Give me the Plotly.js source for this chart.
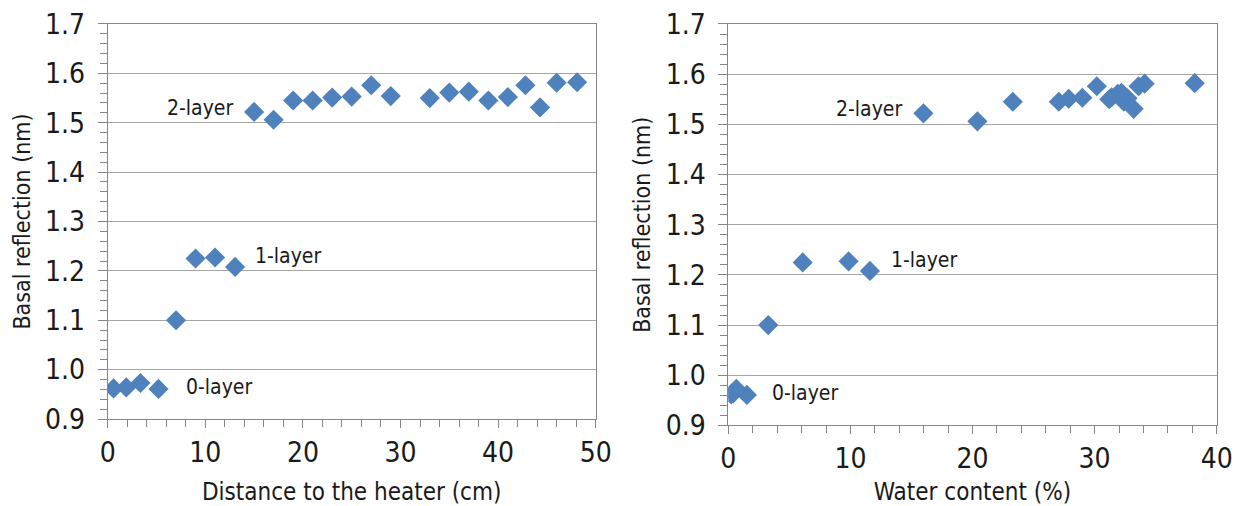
<!DOCTYPE html>
<html>
<head>
<meta charset="utf-8">
<script src="https://cdn.plot.ly/plotly-3.0.1.min.js"></script>
<style>
html,body{margin:0;padding:0;background:#fff;}
#chart{width:1241px;height:506px;}
</style>
</head>
<body>
<div id="chart"></div>
<script>
// Data
const distanceCm = [0.6, 1.9, 3.35, 5.2, 7.0, 9.0, 11.0, 13.05, 15.0, 17.0, 19.0, 21.0, 23.0, 25.0, 27.0, 29.0, 33.0, 35.0, 37.0, 39.0, 41.0, 42.8, 44.3, 46.0, 48.1];
const waterContent = [0.23, 0.4, 0.65, 1.52, 3.27, 6.09, 9.85, 11.6, 15.98, 20.4, 23.3, 27.07, 27.88, 29.0, 30.18, 31.4, 31.2, 31.9, 32.2, 32.4, 32.7, 33.6, 33.2, 34.1, 38.2];
const basalReflection = [0.962, 0.964, 0.973, 0.961, 1.100, 1.225, 1.227, 1.208, 1.522, 1.506, 1.545, 1.545, 1.551, 1.553, 1.576, 1.554, 1.550, 1.561, 1.563, 1.545, 1.552, 1.576, 1.531, 1.581, 1.582];

const layerLabels = ['0-layer', '1-layer', '2-layer'];
const labelY = [0.964, 1.23, 1.53];
const leftLabelX = [7.8, 14.9, 13.0];
const rightLabelX = [3.4, 13.2, 14.35];
const labelAnchor = ['left', 'left', 'right'];

const xTitles = ['Distance to the heater (cm)', 'Water content (%)'];
const yTitle = 'Basal reflection (nm)';

const FONT = '"DejaVu Sans Condensed", "Noto Sans", "DejaVu Sans", sans-serif';
const MARK = '#4F81BD';
const AXC = '#868686';
const GRIDC = '#a6a6a6';

const markerStyle = {symbol: 'diamond', size: 15.5, color: MARK, line: {width: 0}};

const traces = [
  {x: distanceCm, y: basalReflection, type: 'scatter', mode: 'markers', marker: markerStyle, xaxis: 'x', yaxis: 'y', hoverinfo: 'x+y'},
  {x: waterContent, y: basalReflection, type: 'scatter', mode: 'markers', marker: markerStyle, xaxis: 'x2', yaxis: 'y2', hoverinfo: 'x+y'}
];

function xAxis(domain, max, title, anchor) {
  return {
    domain: domain, range: [0, max], anchor: anchor, dtick: 10, tick0: 0,
    showgrid: false, zeroline: false,
    showline: true, mirror: true, linecolor: AXC, linewidth: 1,
    ticks: 'outside', ticklen: 8, tickcolor: AXC, tickwidth: 1,
    ticklabelstandoff: 0,
    minor: {dtick: 2, ticks: 'outside', ticklen: 7, tickcolor: AXC, showgrid: false},
    tickfont: {family: FONT, size: 28, color: '#1a1a1a'},
    title: {text: title, font: {family: FONT, size: 24, color: '#1a1a1a'}, standoff: 16},
    fixedrange: true
  };
}
function yAxis(domain, anchor) {
  return {
    domain: domain, range: [0.9, 1.7], anchor: anchor, dtick: 0.1, tick0: 0.9, tickformat: '.1f',
    showgrid: true, gridcolor: GRIDC, gridwidth: 1, zeroline: false,
    showline: true, mirror: true, linecolor: AXC, linewidth: 1,
    ticks: 'outside', ticklen: 9, tickcolor: AXC, tickwidth: 1,
    ticklabelstandoff: 7,
    minor: {dtick: 0.02, ticks: 'outside', ticklen: 7, tickcolor: AXC, showgrid: false},
    tickfont: {family: FONT, size: 28, color: '#1a1a1a'},
    title: {text: yTitle, font: {family: FONT, size: 23, color: '#1a1a1a'}, standoff: 8},
    fixedrange: true
  };
}

const annotations = [];
for (let i = 0; i < layerLabels.length; i++) {
  annotations.push({xref: 'x', yref: 'y', x: leftLabelX[i], y: labelY[i], text: layerLabels[i], showarrow: false, xanchor: labelAnchor[i], yanchor: 'middle', font: {family: FONT, size: 21, color: '#1a1a1a'}});
  annotations.push({xref: 'x2', yref: 'y2', x: rightLabelX[i], y: labelY[i], text: layerLabels[i], showarrow: false, xanchor: labelAnchor[i], yanchor: 'middle', font: {family: FONT, size: 21, color: '#1a1a1a'}});
}

const layout = {
  width: 1241, height: 506,
  margin: {l: 0, r: 0, t: 0, b: 0},
  paper_bgcolor: '#ffffff', plot_bgcolor: '#ffffff',
  showlegend: false,
  xaxis: xAxis([0.0868, 0.4800], 50, xTitles[0], 'y'),
  yaxis: yAxis([0.1719, 0.9526], 'x'),
  xaxis2: xAxis([0.5869, 0.9804], 40, xTitles[1], 'y2'),
  yaxis2: yAxis([0.1591, 0.9526], 'x2'),
  annotations: annotations
};

Plotly.newPlot('chart', traces, layout, {displayModeBar: false, staticPlot: true});
</script>
</body>
</html>
